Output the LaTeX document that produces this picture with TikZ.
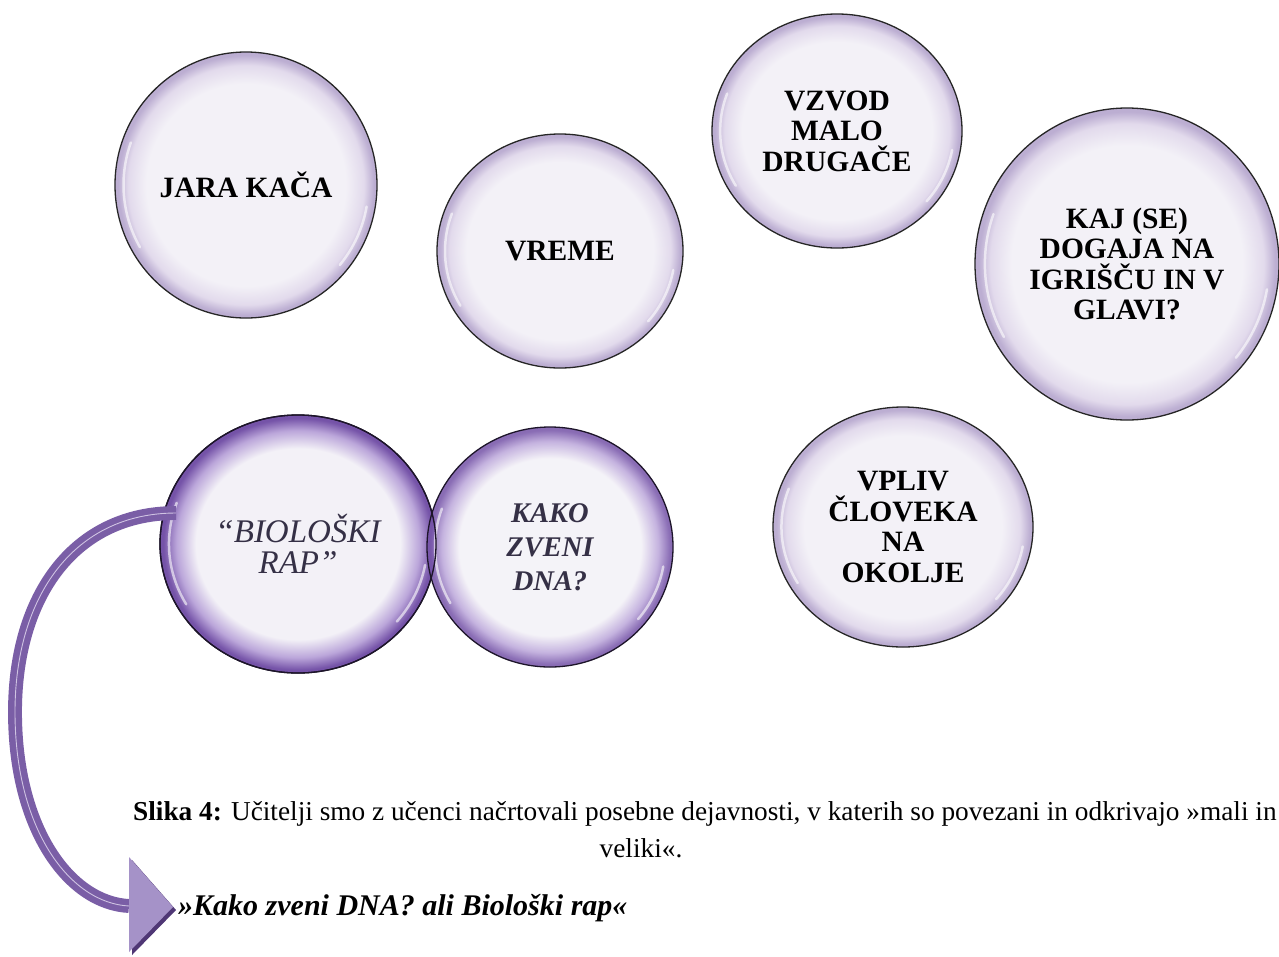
\documentclass[tikz,border=0pt]{standalone}
\usepackage{fontspec}
\setmainfont{Liberation Serif}
\usetikzlibrary{shapes.geometric}
\definecolor{bwhite}{HTML}{F3F1F7}
\definecolor{bgedge}{HTML}{E2DAEC}
\definecolor{bgrim}{HTML}{BCAED2}
\definecolor{bpedge}{HTML}{BBA6DA}
\definecolor{bprim}{HTML}{7553A8}
\definecolor{bandc}{HTML}{7A5EA6}
\definecolor{bandl}{HTML}{CFC3E2}
\definecolor{trif}{HTML}{A592C8}
\definecolor{trish}{HTML}{4F3775}
\definecolor{ptext}{HTML}{353046}
\pgfdeclareradialshading{bubbleG}{\pgfpoint{0bp}{0bp}}{color(0bp)=(bwhite); color(19bp)=(bwhite); color(22.5bp)=(bgedge); color(24.4bp)=(bgrim); color(25bp)=(bgrim); color(50bp)=(bgrim)}
\pgfdeclareradialshading{bubbleP}{\pgfpoint{0bp}{0bp}}{color(0bp)=(bwhite); color(18.5bp)=(bwhite); color(22bp)=(bpedge); color(24.4bp)=(bprim); color(25bp)=(bprim); color(50bp)=(bprim)}
\tikzset{
  bub/.style={ellipse, inner sep=0pt, shading=bubbleG, draw=black!85, line width=1.3pt, align=center,
    font=\bfseries\fontsize{29.5}{30.5}\selectfont},
  bubp/.style={bub, shading=bubbleP, draw=black!75!bprim, text=ptext},
  gloss/.style={white, line width=2.5pt, opacity=0.6, line cap=round},
  band/.style={draw=bandc, line width=6.5pt, double=bandl, double distance=0.9pt},
}
% gloss highlights: #1 centre, #2 rx, #3 ry
\newcommand\glossarcs[3]{%
  \draw[gloss] (#1) ++(200:0.935*#2 and 0.935*#3) arc (200:150:0.935*#2 and 0.935*#3);
  \draw[gloss] (#1) ++(40:0.935*#2 and 0.935*#3) arc (40:10:0.935*#2 and 0.935*#3);
}
\begin{document}
\begin{tikzpicture}[x=1pt,y=-1pt]
\useasboundingbox (0,0) rectangle (1279,956);
\fill[white] (0,0) rectangle (1279,956);
\node[bub, minimum width=262pt, minimum height=266pt] (jara) at (246,185) {JARA KAČA};
\glossarcs{jara.center}{131}{133}
\node[bub, minimum width=246pt, minimum height=234pt] (vreme) at (560,251) {VREME};
\glossarcs{vreme.center}{123}{117}
\node[bub, minimum width=250pt, minimum height=234pt] (vzvod) at (837,131) {VZVOD\\MALO\\DRUGAČE};
\glossarcs{vzvod.center}{125}{117}
\node[bub, minimum width=304pt, minimum height=312pt] (kaj) at (1127,264) {KAJ (SE)\\DOGAJA NA\\IGRIŠČU IN V\\GLAVI?};
\glossarcs{kaj.center}{152}{156}
\node[bub, minimum width=260pt, minimum height=240pt] (vpliv) at (903,527) {VPLIV\\ČLOVEKA\\NA\\OKOLJE};
\glossarcs{vpliv.center}{130}{120}
\node[bubp, minimum width=276pt, minimum height=258pt, font=\mdseries\itshape\fontsize{33}{31}\selectfont] (bio) at (298,544) {“BIOLOŠKI\\RAP”};
\glossarcs{bio.center}{138}{129}
\node[bubp, fill opacity=0.85, text opacity=1, minimum width=246pt, minimum height=240pt, font=\bfseries\itshape\fontsize{28.5}{34}\selectfont] (kako) at (550,547) {KAKO\\ZVENI\\DNA?};
\glossarcs{kako.center}{123}{120}
\draw[black!75!bprim, line width=1.3pt] (bio.center) ellipse (138pt and 129pt);
% arrow
\coordinate (bstart) at (176,513);
\coordinate (headbase) at (129,906);
\coordinate (t1) at (129,857);
\coordinate (t2) at (129,952);
\coordinate (t3) at (173,907);
\draw[band] (bstart) .. controls (75,513) and (15,595) .. (15,712) .. controls (15,830) and (70,903) .. (headbase);
\fill[trish] ([shift={(3,3)}]t1) -- ([shift={(3,3)}]t3) -- ([shift={(3,3)}]t2) -- cycle;
\fill[trif] (t1) -- (t3) -- (t2) -- cycle;
% captions
\node[anchor=base west, inner sep=0pt, font=\fontsize{27.3}{30}\selectfont] (cap1) at (133,820) {\textbf{Slika 4:} Učitelji smo z učenci načrtovali posebne dejavnosti, v katerih so povezani in odkrivajo »mali in};
\node[anchor=base, inner sep=0pt, font=\fontsize{27.3}{30}\selectfont] (cap2) at (641,857) {veliki«.};
\node[anchor=base west, inner sep=0pt, font=\bfseries\itshape\fontsize{30}{32}\selectfont] (title) at (178,915) {»Kako zveni DNA? ali Biološki rap«};
\end{tikzpicture}
\end{document}
